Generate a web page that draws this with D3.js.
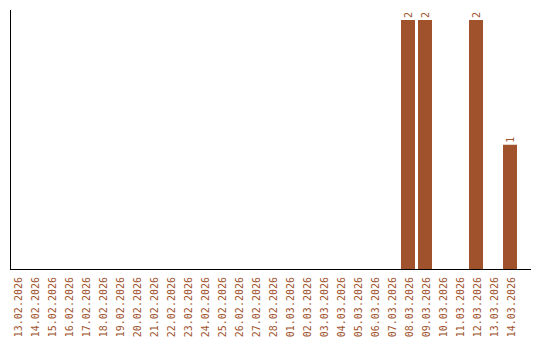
<!DOCTYPE html>
<html>
<head>
<meta charset="utf-8">
<script src="https://cdn.jsdelivr.net/npm/d3@7"></script>
<style>
  body { margin: 0; background: #fff; }
  svg { display: block; }
  text { font-family: "DejaVu Sans Mono", monospace; font-size: 10px; fill: #a0522d; }
</style>
</head>
<body>
<svg id="chart"></svg>
<script>
const dates = [
  "13.02.2026", "14.02.2026", "15.02.2026", "16.02.2026", "17.02.2026",
  "18.02.2026", "19.02.2026", "20.02.2026", "21.02.2026", "22.02.2026",
  "23.02.2026", "24.02.2026", "25.02.2026", "26.02.2026", "27.02.2026",
  "28.02.2026", "01.03.2026", "02.03.2026", "03.03.2026", "04.03.2026",
  "05.03.2026", "06.03.2026", "07.03.2026", "08.03.2026", "09.03.2026",
  "10.03.2026", "11.03.2026", "12.03.2026", "13.03.2026", "14.03.2026"
];
const counts = [
  0, 0, 0, 0, 0, 0, 0, 0, 0, 0,
  0, 0, 0, 0, 0, 0, 0, 0, 0, 0,
  0, 0, 0, 2, 2, 0, 0, 2, 0, 1
];

const width = 540;
const height = 340;
const barColor = "#a0522d";

const svg = d3.select("#chart")
  .attr("width", width)
  .attr("height", height);

const data = dates.map((d, i) => ({ date: d, count: counts[i] }));

const x = d3.scaleBand()
  .domain(dates)
  .range([10, 517])
  .paddingInner(3 / 17)
  .paddingOuter(0);

const y = d3.scaleLinear()
  .domain([0, 2])
  .range([269.5, 20]);

// bars
svg.append("g")
  .selectAll("rect")
  .data(data.filter(d => d.count > 0))
  .enter()
  .append("rect")
  .attr("x", d => x(d.date))
  .attr("y", d => y(d.count))
  .attr("width", x.bandwidth())
  .attr("height", d => y(0) - y(d.count))
  .attr("fill", barColor);

// value labels
svg.append("g")
  .selectAll("text")
  .data(data.filter(d => d.count > 0))
  .enter()
  .append("text")
  .attr("transform", d => `translate(${x(d.date) + x.bandwidth() / 2}, ${y(d.count) - 2}) rotate(-90)`)
  .attr("dy", "0.35em")
  .attr("text-anchor", "start")
  .text(d => d.count);

// axes lines
svg.append("line")
  .attr("x1", 10.5).attr("x2", 10.5)
  .attr("y1", 10).attr("y2", 270)
  .attr("stroke", "#000");

svg.append("line")
  .attr("x1", 10).attr("x2", 531)
  .attr("y1", 269.5).attr("y2", 269.5)
  .attr("stroke", "#000");

// date labels
svg.append("g")
  .selectAll("text")
  .data(dates)
  .enter()
  .append("text")
  .attr("transform", d => `translate(${x(d) + x.bandwidth() / 2 + 1}, 277) rotate(-90)`)
  .attr("dy", "0.35em")
  .attr("text-anchor", "end")
  .text(d => d);
</script>
</body>
</html>
